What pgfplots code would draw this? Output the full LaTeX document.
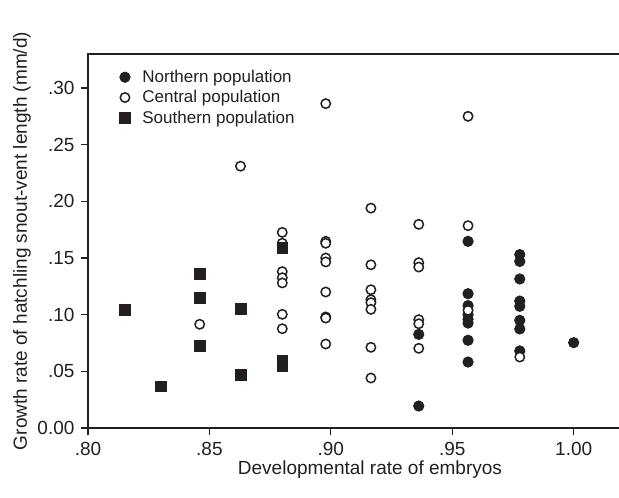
\documentclass[border=0pt]{standalone}
\usepackage{pgfplots}
\pgfplotsset{compat=1.18}
\usepackage{fontspec}
\setmainfont{Liberation Sans}
\definecolor{ink}{RGB}{35,31,32}

\begin{document}
\begin{tikzpicture}
\useasboundingbox (-88pt,-70pt) rectangle (531pt,428pt);
\begin{axis}[
  scale only axis,
  width=533pt, height=374pt,
  xmin=0.80, xmax=1.01948,
  ymin=0, ymax=0.33,
  axis line style={line width=1.6pt, ink},
  xtick pos=lower, ytick pos=left,
  tick align=outside,
  major tick length=7pt,
  tick style={line width=1.3pt, ink},
  xtick={0.80,0.85,0.90,0.95,1.00},
  xticklabels={.80,.85,.90,.95,1.00},
  ytick={0,0.05,0.10,0.15,0.20,0.25,0.30},
  yticklabels={0.00,.05,.10,.15,.20,.25,.30},
  tick label style={font=\fontsize{19}{22}\selectfont, text=ink},
  xticklabel style={yshift=-4pt},
  yticklabel style={xshift=-3pt},
  xlabel={Developmental rate of embryos},
  ylabel={Growth rate of hatchling snout-vent length (mm/d)},
  label style={font=\fontsize{19}{22}\selectfont, text=ink},
  xlabel style={at={(axis description cs:0.529,-0.125)}, anchor=base},
  ylabel style={at={(axis description cs:-0.124,0.5)}, anchor=center},
  legend style={at={(axis description cs:0.057,0.965)}, anchor=north west,
    draw=none, fill=none, font=\fontsize{17}{19}\selectfont, text=ink,
    row sep=2.5pt, inner sep=1pt,
    /tikz/every odd column/.append style={column sep=10pt}},
  legend cell align=left,
]
% Northern population
\addplot[only marks, mark=*, mark size=5.2pt, mark options={draw=ink, fill=ink, line width=0.8pt}]
coordinates {
(0.9362,0.0826) (0.9362,0.0194)
(0.9565,0.1647) (0.9565,0.1185) (0.9565,0.108) (0.9565,0.100) (0.9565,0.0960)
(0.9565,0.0926) (0.9565,0.0774) (0.9565,0.0582)
(0.9778,0.153) (0.9778,0.147) (0.9778,0.1315) (0.9778,0.112) (0.9778,0.1074)
(0.9778,0.095) (0.9778,0.0874) (0.9778,0.068)
(1.000,0.0753)
};
\addlegendentry{Northern population}
% Central population
\addplot[only marks, mark=*, mark size=4.7pt, mark options={draw=ink, fill=white, line width=1.5pt}]
coordinates {
(0.846,0.0915)
(0.8628,0.231)
(0.880,0.1726) (0.880,0.163) (0.880,0.138) (0.880,0.1326) (0.880,0.128) (0.880,0.1003) (0.880,0.0876)
(0.8979,0.2862) (0.8979,0.1647) (0.8979,0.163) (0.8979,0.150) (0.8979,0.1465) (0.8979,0.120)
(0.8979,0.098) (0.8979,0.097) (0.8979,0.0741)
(0.9165,0.194) (0.9165,0.144) (0.9165,0.122) (0.9165,0.1132) (0.9165,0.1106) (0.9165,0.1047)
(0.9165,0.0712) (0.9165,0.0441)
(0.9362,0.1797) (0.9362,0.1459) (0.9362,0.142) (0.9362,0.0956) (0.9362,0.092) (0.9362,0.0703)
(0.9565,0.275) (0.9565,0.1785) (0.9565,0.1038)
(0.9778,0.0626)
};
\addlegendentry{Central population}
% Southern population
\addplot[only marks, mark=square*, mark size=5.4pt, mark options={draw=ink, fill=ink, line width=0.4pt}]
coordinates {
(0.815,0.1044) (0.830,0.0368)
(0.846,0.136) (0.846,0.115) (0.846,0.0724)
(0.8628,0.1053) (0.8628,0.047)
(0.880,0.159) (0.880,0.0597) (0.880,0.0547)
};
\addlegendentry{Southern population}
\end{axis}
\end{tikzpicture}
\end{document}
